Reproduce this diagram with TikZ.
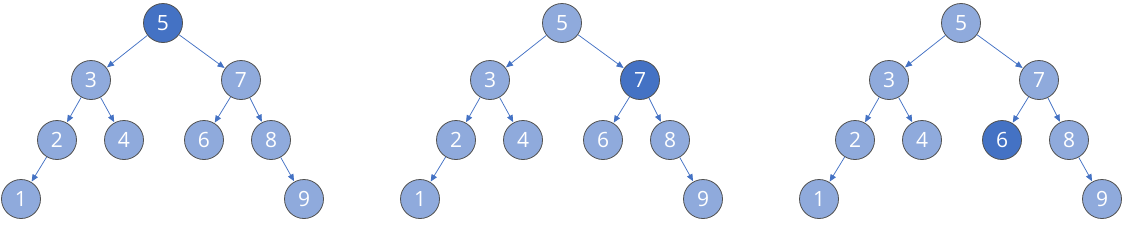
\documentclass[tikz,border=0pt]{standalone}
\usepackage{fontspec}
\setmainfont{Open Sans}
\usetikzlibrary{arrows.meta}
\definecolor{lightnode}{HTML}{8FAADC}
\definecolor{darknode}{HTML}{4472C4}
\definecolor{rim}{HTML}{505050}
\definecolor{edgecol}{HTML}{4472C4}
\tikzset{
  tnode/.style={circle, draw=rim, line width=0.8pt, fill=lightnode, minimum size=39pt, inner sep=0pt, text=white, font=\fontsize{21}{23}\selectfont},
  hl/.style={fill=darknode},
  link/.style={draw=edgecol, line width=0.75pt, -{Triangle[length=7pt,width=6pt]}, shorten >=0.5pt},
}
\newcommand{\drawtree}[3]{%
  \begin{scope}[xshift=#1]
    \node[tnode,#2] (#3n5) at (163,-23) {5};
    \node[tnode] (#3n3) at (91,-80) {3};
    \node[tnode,#3hl7] (#3n7) at (241,-80) {7};
    \node[tnode] (#3n2) at (57,-140) {2};
    \node[tnode] (#3n4) at (124,-140) {4};
    \node[tnode,#3hl6] (#3n6) at (204,-140) {6};
    \node[tnode] (#3n8) at (271,-140) {8};
    \node[tnode] (#3n1) at (21,-199) {1};
    \node[tnode] (#3n9) at (304,-199) {9};
    \draw[link] (#3n5) -- (#3n3);
    \draw[link] (#3n5) -- (#3n7);
    \draw[link] (#3n3) -- (#3n2);
    \draw[link] (#3n3) -- (#3n4);
    \draw[link] (#3n7) -- (#3n6);
    \draw[link] (#3n7) -- (#3n8);
    \draw[link] (#3n2) -- (#3n1);
    \draw[link] (#3n8) -- (#3n9);
  \end{scope}}
\tikzset{
  Ahl7/.style={}, Ahl6/.style={},
  Bhl7/.style={hl}, Bhl6/.style={},
  Chl7/.style={}, Chl6/.style={hl},
}
\begin{document}
\begin{tikzpicture}[x=1pt,y=1pt]
  \useasboundingbox (0,0) rectangle (1123,-228);
  \drawtree{0pt}{hl}{A}
  \drawtree{399pt}{}{B}
  \drawtree{798pt}{}{C}
\end{tikzpicture}
\end{document}
